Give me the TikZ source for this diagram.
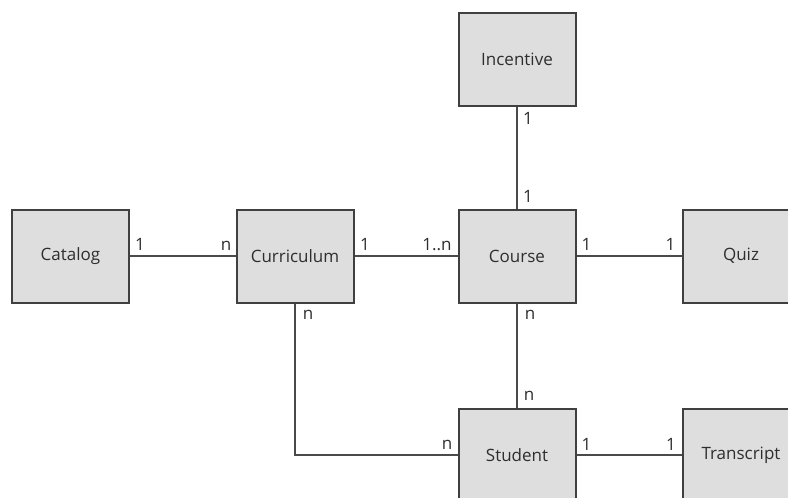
\documentclass[tikz,border=0pt]{standalone}
\usepackage{fontspec}
\setmainfont{Open Sans}
\definecolor{boxfill}{HTML}{DEDEDE}
\definecolor{boxline}{HTML}{404040}
\definecolor{linkline}{HTML}{4A4A4A}
\definecolor{inktext}{HTML}{2E2E2E}
\begin{document}
\begin{tikzpicture}[x=1pt,y=-1pt,
  entity/.style={draw=boxline, fill=boxfill, line width=2pt, rectangle,
    minimum width=117pt, minimum height=93pt, inner sep=0pt,
    font=\fontsize{17}{20}\selectfont, text=inktext},
  link/.style={draw=linkline, line width=1.6pt},
  mult/.style={anchor=base, inner sep=0pt, font=\fontsize{17}{20}\selectfont, text=inktext}]
\useasboundingbox (0,0) rectangle (788,498);
\clip (0,0) rectangle (788,498);
\fill[white] (0,0) rectangle (788,498);

% entities
\node[entity] (incentive)  at (517,59.5) {Incentive};
\node[entity] (catalog)    at (70.5,256) {Catalog};
\node[entity] (curriculum) at (295,256)  {Curriculum};
\node[entity] (course)     at (517,256)  {Course};
\node[entity] (quiz)       at (741,256)  {Quiz};
\node[entity] (student)    at (517,455)  {Student};
\node[entity] (transcript) at (741,455)  {Transcript};

% relationships
\draw[link] (catalog.east) -- (curriculum.west);
\draw[link] (curriculum.east) -- (course.west);
\draw[link] (course.east) -- (quiz.west);
\draw[link] (incentive.south) -- (course.north);
\draw[link] (course.south) -- (student.north);
\draw[link] (student.east) -- (transcript.west);
\draw[link] (curriculum.south) |- (student.west);

% multiplicities
\node[mult] (m1) at (140,250) {1};
\node[mult] (m2) at (226,250) {n};
\node[mult] (m3) at (365,250) {1};
\node[mult] (m4) at (437,250) {1..n};
\node[mult] (m5) at (586.5,250) {1};
\node[mult] (m6) at (670.5,250) {1};
\node[mult] (m7) at (528,124) {1};
\node[mult] (m8) at (528,202) {1};
\node[mult] (m9) at (308,319) {n};
\node[mult] (m10) at (530,319) {n};
\node[mult] (m11) at (529,400) {n};
\node[mult] (m12) at (447,449) {n};
\node[mult] (m13) at (586.5,450) {1};
\node[mult] (m14) at (671,450) {1};
\end{tikzpicture}
\end{document}
